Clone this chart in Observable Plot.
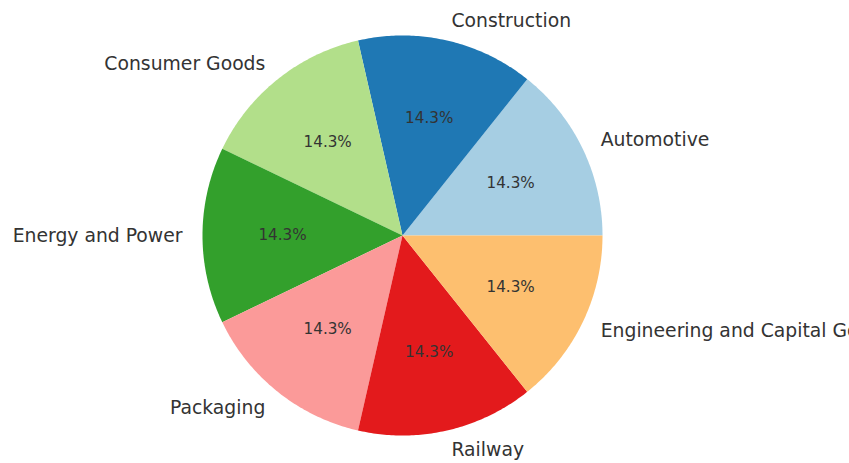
<!DOCTYPE html>
<html>
<head>
<meta charset="utf-8">
<script src="https://cdn.jsdelivr.net/npm/d3@7"></script>
<script src="https://cdn.jsdelivr.net/npm/@observablehq/plot@0.6"></script>
<style>
  html, body { margin: 0; padding: 0; background: #fff; overflow: hidden; }
  svg { font-family: "DejaVu Sans", sans-serif; }
</style>
</head>
<body>
<div id="chart"></div>
<script>
// Industry sectors and their shares
const categories = ["Automotive", "Construction", "Consumer Goods", "Energy and Power", "Packaging", "Railway", "Engineering and Capital Goods"];
const values = [1, 1, 1, 1, 1, 1, 1];
const colors = ["#a6cee3", "#1f78b4", "#b2df8a", "#33a02c", "#fb9a99", "#e31a1c", "#fdbf6f"];

const W = 849, H = 463;
const cx = 402, cy = 235, R = 200; // pie centre and radius in pixels

const total = d3.sum(values);
let cum = 0;
const slices = categories.map((c, i) => {
  const a0 = cum / total * 2 * Math.PI;
  cum += values[i];
  const a1 = cum / total * 2 * Math.PI;
  return {category: c, value: values[i], a0, a1, mid: (a0 + a1) / 2};
});

// Polygon outline of each wedge (counter-clockwise from east), in units of radius
const wedgePts = slices.flatMap(s => {
  const n = 80;
  const pts = [{category: s.category, x: 0, y: 0}];
  for (let k = 0; k <= n; k++) {
    const a = s.a0 + (s.a1 - s.a0) * k / n;
    pts.push({category: s.category, x: Math.cos(a), y: Math.sin(a)});
  }
  pts.push({category: s.category, x: 0, y: 0});
  return pts;
});

const labels = slices.map(s => ({
  text: s.category,
  x: 1.1 * Math.cos(s.mid),
  y: 1.1 * Math.sin(s.mid)
}));
const pcts = slices.map(s => ({
  text: (100 * s.value / total).toFixed(1) + "%",
  x: 0.6 * Math.cos(s.mid),
  y: 0.6 * Math.sin(s.mid)
}));

const plot = Plot.plot({
  width: W,
  height: H,
  margin: 0,
  x: {domain: [-cx / R, (W - cx) / R], axis: null},
  y: {domain: [-(H - cy) / R, cy / R], axis: null},
  color: {domain: categories, range: colors},
  marks: [
    Plot.line(wedgePts, {x: "x", y: "y", z: "category", fill: "category", stroke: "none", curve: "linear"}),
    Plot.text(labels.filter(d => d.x >= 0), {x: "x", y: "y", text: "text", textAnchor: "start", fontSize: 18.8, fill: "#333"}),
    Plot.text(labels.filter(d => d.x < 0), {x: "x", y: "y", text: "text", textAnchor: "end", fontSize: 18.8, fill: "#333"}),
    Plot.text(pcts, {x: "x", y: "y", text: "text", fontSize: 15.2, fill: "#333"})
  ]
});
plot.style.overflow = "hidden";
document.getElementById("chart").append(plot);
</script>
</body>
</html>
